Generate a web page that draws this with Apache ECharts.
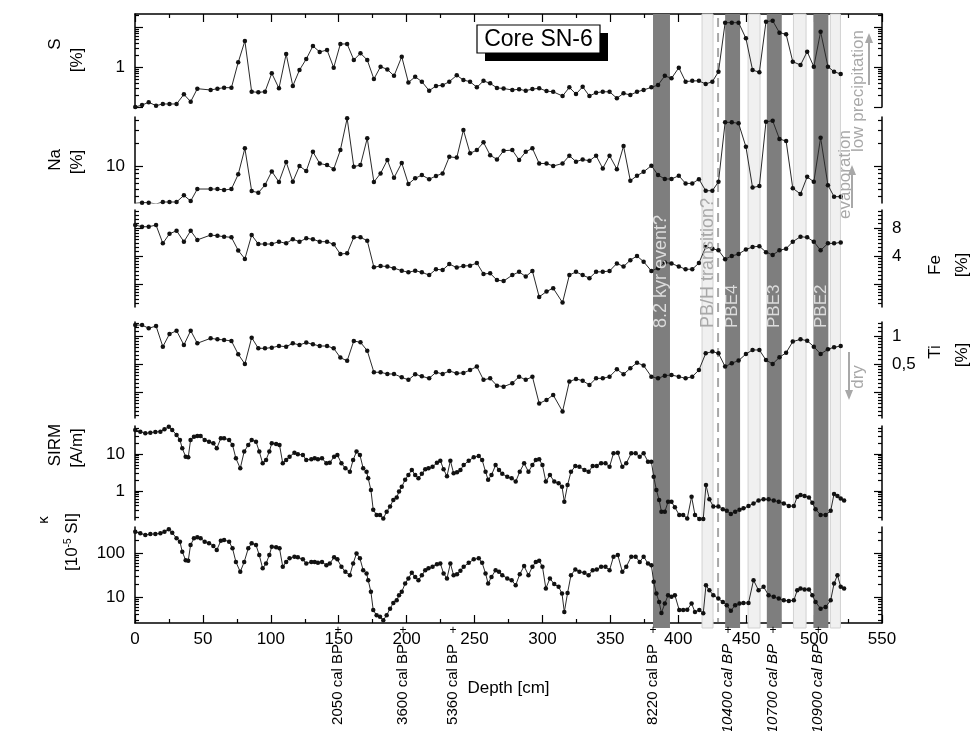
<!DOCTYPE html>
<html>
<head>
<meta charset="utf-8">
<script src="https://cdn.jsdelivr.net/npm/echarts@6/dist/echarts.min.js"></script>
<style>
  html, body { margin: 0; padding: 0; background: #fff; }
  #chart { width: 977px; height: 731px; }
</style>
</head>
<body>
<div id="chart"></div>
<script>
// ---------- XRF element records (core SN-6), depth in cm ----------
const xrfDepth = [
  0.2, 5.2, 10.1, 15.5, 20.5, 25.4, 30.6, 36, 41, 45.9, 55.7, 60.7, 65.6, 71, 76, 80.9, 85.9, 90.8,
  95.7, 100.7, 106, 111.3, 116.2, 121.1, 126.1, 131, 136, 141.4, 146.3, 151.2, 156.2, 161.1, 166,
  171, 175.9, 180.8, 185.8, 190.7, 196.4, 201.3, 206.3, 211.2, 216.6, 221.6, 226.5, 231.4, 236.9,
  241.8, 246.7, 251.7, 256.6, 261.5, 266.5, 271.4,
  277.8, 282.8, 287.7, 292.6, 297.6, 303, 307.9, 314.8, 319.8, 324.7, 329.6, 334.6, 339.5, 344.4,
  349.4, 354.8, 359.7, 364.7, 369.6, 374.5, 380.2, 385.1, 390.1, 395, 400.4, 405.4, 410.3, 415.2,
  420.2, 425.1, 429.6, 434.5, 439.4, 444.4, 449.8, 454.7, 459.7, 464.6, 469.5, 474.5, 479.4, 484.3,
  490, 494.9, 499.8, 504.8, 510.2, 514.7, 519.6
];
// S [%]
const sulfur = [
  0.10, 0.112, 0.131, 0.108, 0.119, 0.119, 0.119, 0.207, 0.136, 0.287, 0.266, 0.287, 0.304, 0.304,
  1.31, 4.47, 0.24, 0.233, 0.24, 0.695, 0.293, 2.11, 0.335, 0.84, 1.58, 3.35, 2.37, 2.66, 0.96,
  3.76, 3.76, 1.5, 2.2, 1.5, 0.5, 1.02, 0.87, 0.6, 1.81, 0.41, 0.57, 0.43, 0.256, 0.335, 0.35,
  0.43, 0.62, 0.47, 0.43, 0.31, 0.45, 0.39, 0.30, 0.29,
  0.266, 0.277, 0.256, 0.28, 0.293, 0.25, 0.24, 0.188, 0.31, 0.21, 0.32, 0.188, 0.228, 0.24, 0.24,
  0.165, 0.22, 0.2, 0.24, 0.266, 0.31, 0.355, 0.6, 0.52, 0.96, 0.43, 0.45, 0.45, 0.376, 0.43,
  0.76, 12.8, 12.8, 12.8, 5.2, 0.84, 0.74, 13.6, 14.3, 7.2, 6.6, 1.36, 1.12, 2.42, 1.02, 7.6,
  1.02, 0.76, 0.67
];
// Na [%]
const sodium = [
  3.23, 3.29, 3.29, 3.16, 3.36, 3.36, 3.36, 4.11, 3.46, 4.98, 4.98, 4.98, 4.83, 4.98, 7.77, 17.1,
  4.69, 4.45, 5.62, 8.5, 6.16, 11.3, 6.22, 10, 8.6, 15.4, 10.8, 10.3, 9.1, 16.2, 42.4, 9.8, 10.3,
  23.2, 6.16, 8.0, 12, 7.0, 11, 5.8, 6.9, 7.6, 6.7, 7.4, 8.0, 13.2, 12.9, 29.8, 14.7, 16.2, 20.5,
  13.9, 12.2, 15.9,
  16.2, 12, 15.4, 17.1, 10.8, 10.8, 10, 10.8, 13.7, 11.4, 12.2, 11.7, 13.7, 9.3, 13.7, 9.1, 18.3,
  6.4, 7.45, 8.4, 10.1, 7.6, 6.75, 6.75, 7.45, 5.9, 5.9, 6.7, 4.73, 4.73, 6.2, 37.6, 37.6, 36.5,
  17.9, 5.2, 5.45, 38.3, 39.4, 22.7, 21.3, 5.1, 4.28, 7.2, 6.2, 23.6, 5.6, 3.95, 3.95
];
// Fe [%]
const iron = [
  8.6, 8.26, 8.26, 8.6, 5.47, 6.93, 7.48, 5.7, 7.48, 5.96, 6.72, 6.6, 6.45, 6.35, 4.59, 3.72, 6.72,
  5.38, 5.38, 5.38, 5.7, 5.47, 6.06, 5.7, 6.19, 6.06, 5.7, 5.7, 5.34, 4.2, 4.27, 6.35, 6.35, 5.85,
  3.03, 3.12, 3.08, 2.96, 2.78, 2.67, 2.78, 2.67, 2.49, 2.88, 2.83, 3.27, 3.0, 3.12, 3.15, 3.36,
  2.56, 2.6, 2.2, 2.15,
  2.49, 2.7, 2.4, 2.76, 1.45, 1.66, 1.8, 1.26, 2.49, 2.7, 2.49, 2.31, 2.7, 2.7, 2.76, 3.33, 3.08,
  3.61, 4.0, 3.47, 2.76, 2.96, 3.4, 3.33, 3.08, 2.88, 2.88, 3.36, 5.0, 4.8, 4.6, 3.7, 4.0, 4.2,
  4.7, 5.0, 5.1, 4.4, 4.1, 4.6, 4.8, 5.7, 6.45, 6.35, 5.7, 4.6, 5.47, 5.47, 5.6
];
// Ti [%]
const titanium = [
  1.31, 1.31, 1.21, 1.28, 0.767, 1.05, 1.14, 0.8, 1.14, 0.835, 0.944, 0.92, 0.906, 0.884, 0.636,
  0.5, 0.96, 0.737, 0.737, 0.749, 0.78, 0.767, 0.835, 0.8, 0.85, 0.814, 0.78, 0.78, 0.737, 0.585,
  0.54, 0.884, 0.855, 0.695, 0.407, 0.407, 0.39, 0.39, 0.359, 0.337, 0.387, 0.368, 0.35, 0.407,
  0.39, 0.42, 0.397, 0.4, 0.43, 0.468, 0.337, 0.35, 0.292, 0.285,
  0.31, 0.365, 0.337, 0.365, 0.188, 0.205, 0.232, 0.154, 0.323, 0.345, 0.33, 0.297, 0.35, 0.35,
  0.365, 0.438, 0.387, 0.45, 0.516, 0.48, 0.365, 0.35, 0.374, 0.38, 0.365, 0.35, 0.365, 0.43,
  0.65, 0.68, 0.65, 0.468, 0.51, 0.543, 0.64, 0.707, 0.707, 0.55, 0.5, 0.59, 0.66, 0.87, 0.92,
  0.89, 0.767, 0.64, 0.72, 0.755, 0.78
];

// ---------- magnetic records, depth in cm ----------
const magDepth = [
  0.2, 3.9, 7.6, 11.3, 15.0, 18.7, 21.7, 24.9, 27.4, 30.6, 33.1, 34.8, 37.3, 39.2, 40.9, 43.4, 45.9,
  48.3, 51.3, 54.5, 57.7, 60.2, 63.2, 65.6, 69.3, 71.8, 74.3, 77.5, 80.4, 83.4, 85.9, 89.1, 91.5,
  94, 96.5, 98.9, 100.7, 103.9, 106.4, 108.8, 111.3, 113.8, 117.4, 119.9, 123.6, 126.1, 129.8,
  132.3, 134.7, 137.7, 140.9, 143.4, 146.6, 149, 152, 154.9, 158.2, 160.6, 163.1, 165.6, 168,
  170.5, 171.7, 173.7, 175.4, 177.9, 180.4, 182.8, 185.3, 187.8, 190.2, 192.7, 194.4, 196.4,
  198.9, 201.3, 203.8, 206.3, 208.7, 211.2, 213.7, 216.1, 219.1, 222.3, 224.8, 227.2, 229.7,
  232.2, 234.6, 237.1, 239.6, 242, 245.7, 249.4, 253.1, 255.6, 258.1, 260, 262.5, 265.5, 268,
  270.4, 274.1,
  277.3, 280.3, 283.3, 286.5, 289.7, 292.6, 295.1, 297.6, 300, 302.5, 305.5, 308.7, 311.9, 314.4,
  316.1, 318.5, 321, 324.2, 327.2, 330.9, 334, 337, 340, 343.2, 346.4, 349.4, 352.3, 355.5, 358.8,
  361.7, 365.4, 368.6, 371.6, 374.5, 377.7, 380.2, 381.9, 383.9, 385.9, 387.6, 390.1, 392.5, 395,
  397.5, 400.7, 403.6, 406.6, 409.8, 412.3, 415.5, 418.4, 420.4, 422.9, 425.8, 429.5, 432.8,
  435.7, 438.7, 441.9, 445.1, 448, 451.7, 455.4, 459.1, 462.8, 466.5, 470.3, 474, 477.7, 481.4,
  485.1, 487.6, 490, 493, 496.2, 498.7, 501.1, 504.8, 508.5, 512.2, 514.7, 517.2, 519.6, 522.1
];
// SIRM [A/m]
const sirm = [
  44.5, 40.1, 36.2, 37.6, 39.3, 40.1, 46.4, 54.8, 44.5, 32.7, 23.9, 14.2, 8.45, 8.1, 23.9, 29.4,
  30.6, 30.6, 23.9, 21.5, 19.4, 14.2, 26.5, 26.5, 23.9, 17.5, 7.6, 4.1, 11.6, 17.5, 23.9, 21.5,
  11.6, 5.6, 6.9, 11.6, 19.4, 18.6, 17.5, 5.6, 6.9, 8.45, 10.8, 9.8, 9.4, 6.9, 7.2, 7.6, 7.2, 7.6,
  5.6, 5.8, 8.45, 9.4, 5.6, 4.1, 3.3, 6.9, 11.6, 9.4, 4.1, 3.3, 2.2, 1.06, 0.31, 0.225, 0.225,
  0.18, 0.275, 0.38, 0.57, 0.67, 0.96, 1.3, 2.0, 2.7, 3.7, 2.7, 2.2, 2.9, 3.85, 4.1, 4.5, 5.8,
  6.6, 3.85, 2.5, 6.6, 3.0, 3.2, 3.7, 5.0, 6.6, 8.1, 8.8, 6.9, 3.3, 2.0, 2.7, 5.0, 3.7, 2.9, 2.43,
  2.2, 1.79, 3.3, 5.6, 3.3, 5.0, 6.9, 7.2, 5.0, 1.79, 2.7, 1.79, 1.61, 1.3, 0.51, 1.45, 3.3, 4.7,
  4.5, 3.7, 3.3, 4.7, 4.7, 5.6, 5.6, 4.5, 10.4, 10.8, 4.5, 5.6, 10.4, 10.4, 8.45, 10.4, 6.2, 6.2,
  2.43, 1.06, 0.57, 0.275, 0.275, 0.51, 0.51, 0.36, 0.225, 0.225, 0.18, 0.7, 0.225, 0.175, 0.175,
  1.45, 0.6, 0.38, 0.38, 0.32, 0.29, 0.24, 0.275, 0.31, 0.34, 0.39, 0.46, 0.55, 0.6, 0.6, 0.55,
  0.51, 0.46, 0.39, 0.39, 0.7, 0.78, 0.73, 0.67, 0.48, 0.32, 0.225, 0.225, 0.29, 0.83, 0.73, 0.63,
  0.55
];
// magnetic susceptibility kappa [10^-5 SI]
const kappa = [
  305, 280, 256, 270, 270, 280, 305, 345, 290, 216, 181, 107, 69, 67, 152, 216, 227, 216, 181, 166,
  144, 117, 190, 198, 181, 128, 63, 37.6, 63, 128, 166, 152, 90, 45, 58, 90, 139, 135, 128, 49, 63,
  76, 83, 80, 72, 58, 63, 63, 60, 63, 53, 58, 80, 72, 49, 37.6, 31.6, 58, 98, 76, 41, 34.6, 24.3,
  13.2, 5.1, 3.9, 3.6, 3.0, 3.9, 5.5, 7.4, 8.5, 11.1, 13.2, 20.4, 26.6, 35.6, 28.8, 24.3, 31.6, 41,
  45, 49, 56, 58, 34.6, 26.6, 58, 31.6, 33.3, 39.5, 49, 60, 72, 76, 60, 34.6, 20.4, 28.8, 41, 37.6,
  31.6, 26.6,
  24.3, 18.7, 33.3, 50.7, 31.6, 49, 63, 67, 49, 15.8, 26.6, 19.8, 17.2, 12.1, 4.6, 12.5, 31.6,
  42.6, 37.6, 35.6, 31.6, 41, 42.6, 49, 49, 41, 83, 90, 37.6, 49, 83, 83, 63, 83, 58, 53, 22.3,
  12.1, 7.8, 4.4, 7.2, 11.1, 10.2, 11.1, 5.1, 5.1, 5.2, 7.2, 4.6, 5.1, 4.3, 18.7, 14.4, 11.1, 9.3,
  7.8, 6.6, 4.9, 6.6, 7.2, 7.4, 7.4, 24.3, 14.4, 17.2, 11.1, 10.2, 9.3, 8.5, 8.2, 8.5, 14.4, 15.8,
  15, 15, 11.1, 7.8, 5.5, 6.0, 8.5, 20.4, 31.6, 17.2, 15.8
];

// ---------- event intervals and age control points ----------
const darkBands = [[381.4, 393.9], [434.5, 445.5], [465.2, 476.2], [499.5, 510.5]];
const darkBandNames = ['8.2 kyr event?', 'PBE4', 'PBE3', 'PBE2'];
const lightBands = [[417.5, 425.6], [451.4, 460.2], [484.8, 494.1], [512, 519.4]];
const transitionDepth = 429.3;
const ageDepth = [149.5, 197.3, 234.2, 381.4, 436.7, 469.8, 503];
const ageLabels = ['2050 cal BP', '3600 cal BP', '5360 cal BP', '8220 cal BP',
                   '10400 cal BP', '10700 cal BP', '10900 cal BP'];

// ---------- layout ----------
const FONT = '"Liberation Sans", Arial, sans-serif';
const GL = 135, GR = 95;          // grid left / right margins
const X_MAX = 550;

function log10Ticks(min, max, mults) {
  const out = [];
  for (let e = -3; e <= 4; e++) {
    for (const m of mults) {
      const v = +(m * Math.pow(10, e)).toPrecision(6);
      if (v >= min * 0.999 && v <= max * 1.001) out.push(v);
    }
  }
  return out;
}
function log2Ticks(min, max, mults) {
  const out = [];
  for (let e = -4; e <= 5; e++) {
    for (const m of mults) {
      const v = +(m * Math.pow(2, e)).toPrecision(6);
      if (v >= min * 0.999 && v <= max * 1.001) out.push(v);
    }
  }
  return out;
}

const panels = [
  { top: 14,  h: 93, min: 0.1,  max: 21.1, base: 10, labels: [1],       side: 'left',  depth: xrfDepth, values: sulfur },
  { top: 117, h: 86, min: 3.26, max: 44.2, base: 10, labels: [10],      side: 'left',  depth: xrfDepth, values: sodium },
  { top: 210, h: 97, min: 1.13, max: 12.5, base: 2,  labels: [4, 8],    side: 'right', depth: xrfDepth, values: iron },
  { top: 322, h: 96, min: 0.131, max: 1.414, base: 2, labels: [0.5, 1], side: 'right', depth: xrfDepth, values: titanium },
  { top: 426, h: 94, min: 0.164, max: 57,  base: 10, labels: [1, 10],   side: 'left',  depth: magDepth, values: sirm },
  { top: 527, h: 96, min: 2.6,  max: 390,  base: 10, labels: [10, 100], side: 'left',  depth: magDepth, values: kappa }
];
panels.forEach(p => {
  if (p.base === 10) {
    p.major = log10Ticks(p.min, p.max, [1]);
    p.minor = log10Ticks(p.min, p.max, [2, 3, 4, 5, 6, 7, 8, 9]);
  } else {
    p.major = log2Ticks(p.min, p.max, [1]);
    p.minor = log2Ticks(p.min, p.max, [1.125, 1.25, 1.375, 1.5, 1.625, 1.75, 1.875]);
  }
});

const fmt = v => String(+(+v).toPrecision(6)).replace('.', ',');

const grids = [], xAxes = [], yAxes = [], series = [];
panels.forEach((p, i) => {
  grids.push({ left: GL, right: GR, top: p.top, height: p.h, outerBoundsMode: 'none' });
  const isTop = i === 0, isBottom = i === panels.length - 1;
  xAxes.push({
    type: 'value', gridIndex: i, min: 0, max: X_MAX, interval: 50,
    position: isTop ? 'top' : 'bottom',
    show: isTop || isBottom,
    axisLine: { show: true, onZero: false, lineStyle: { color: '#000', width: 1.5 } },
    axisTick: { show: true, inside: true, length: 8, lineStyle: { color: '#000', width: 1.2 } },
    minorTick: { show: true, splitNumber: 2, length: 4, lineStyle: { color: '#000', width: 1.2 } },
    axisLabel: { show: isBottom, fontSize: 17, color: '#000', fontFamily: FONT, margin: 8 },
    splitLine: { show: false },
    name: isBottom ? 'Depth [cm]' : '',
    nameLocation: 'middle', nameGap: 57,
    nameTextStyle: { fontSize: 17, color: '#000', fontFamily: FONT }
  });
  ['left', 'right'].forEach(pos => {
    ['major', 'minor'].forEach(kind => {
      yAxes.push({
        type: 'log', logBase: p.base, gridIndex: i, position: pos, min: p.min, max: p.max,
        axisLine: { show: kind === 'major', onZero: false, lineStyle: { color: '#000', width: 1.5 } },
        axisTick: { show: true, inside: true, length: kind === 'major' ? 8 : 4,
                    customValues: p[kind], lineStyle: { color: '#000', width: 1.2 } },
        axisLabel: { show: kind === 'major' && pos === p.side, customValues: p.labels,
                     formatter: fmt, fontSize: 17, color: '#000', fontFamily: FONT, margin: 10 },
        splitLine: { show: false }, minorTick: { show: false }
      });
    });
  });
  series.push({
    type: 'line', xAxisIndex: i, yAxisIndex: i * 4,
    data: p.depth.map((d, k) => [d, p.values[k]]),
    symbol: 'circle', symbolSize: 4.5, showSymbol: true,
    lineStyle: { color: '#2a2a2a', width: 1 },
    itemStyle: { color: '#111' },
    z: 5, animation: false, silent: true
  });
});

// full-height backdrop grid for the event bands
const BG = panels.length;
grids.push({ left: GL, right: GR, top: 14, bottom: 731 - 628, outerBoundsMode: 'none' });
xAxes.push({ type: 'value', gridIndex: BG, min: 0, max: X_MAX, show: false });
yAxes.push({ type: 'value', gridIndex: BG, min: 0, max: 1, show: false });
const BGY = yAxes.length - 1;

const bandData = lightBands.map(b => [b[0], b[1], 0]).concat(darkBands.map(b => [b[0], b[1], 1]));
series.push({
  type: 'custom', xAxisIndex: BG, yAxisIndex: BGY, z: 1, silent: true, animation: false,
  data: bandData,
  renderItem: (params, api) => {
    const a = api.coord([api.value(0), 1]);
    const b = api.coord([api.value(1), 0]);
    const dark = api.value(2) === 1;
    return {
      type: 'rect',
      shape: { x: a[0], y: a[1], width: b[0] - a[0], height: b[1] - a[1] },
      style: dark ? { fill: '#7e7e7e' } : { fill: '#f0f0f0', stroke: '#d2d2d2', lineWidth: 1 }
    };
  }
});
series.push({
  type: 'custom', xAxisIndex: BG, yAxisIndex: BGY, z: 1, silent: true, animation: false,
  data: [[transitionDepth]],
  renderItem: (params, api) => {
    const a = api.coord([api.value(0), 1]);
    const b = api.coord([api.value(0), 0]);
    return {
      type: 'line', shape: { x1: a[0], y1: a[1] + 4, x2: b[0], y2: b[1] - 6 },
      style: { stroke: '#a8a8a8', lineWidth: 2, lineDash: [9, 6] }
    };
  }
});

const chart = echarts.init(document.getElementById('chart'), null, { renderer: 'canvas' });
chart.setOption({
  backgroundColor: '#fff',
  animation: false,
  grid: grids, xAxis: xAxes, yAxis: yAxes, series: series
});

// ---------- annotations ----------
const px = d => chart.convertToPixel({ xAxisIndex: BG }, d);
const UP = Math.PI / 2;
function vtext(x, y, text, size, color, align, extra) {
  return {
    type: 'text', x: x, y: y, rotation: UP, z: 20, silent: true,
    style: Object.assign({ text: text, fill: color, fontSize: size, fontFamily: FONT,
                           align: align, verticalAlign: 'middle' }, extra || {})
  };
}
function arrow(x, y1, y2, color) {
  const dir = y2 < y1 ? -1 : 1;
  return [
    { type: 'line', z: 20, silent: true, shape: { x1: x, y1: y1, x2: x, y2: y2 - dir * 8 },
      style: { stroke: color, lineWidth: 2 } },
    { type: 'polygon', z: 20, silent: true,
      shape: { points: [[x - 4, y2 - dir * 10], [x + 4, y2 - dir * 10], [x, y2]] },
      style: { fill: color } }
  ];
}

const g = [];
// axis titles
g.push(vtext(55, 44, 'S', 17, '#000', 'center'));
g.push(vtext(77, 60, '[%]', 17, '#000', 'center'));
g.push(vtext(55, 160, 'Na', 17, '#000', 'center'));
g.push(vtext(77, 162, '[%]', 17, '#000', 'center'));
g.push(vtext(55, 445, 'SIRM', 17, '#000', 'center'));
g.push(vtext(77, 448, '[A/m]', 17, '#000', 'center'));
g.push(vtext(44, 520, 'κ', 15, '#000', 'center'));
g.push({ type: 'text', x: 72, y: 542, rotation: UP, z: 20, silent: true,
         style: { text: '[10{s|-5} SI]', fill: '#000', fontSize: 17, fontFamily: FONT,
                  align: 'center', verticalAlign: 'middle',
                  rich: { s: { fontSize: 10, fontFamily: FONT, verticalAlign: 'top', padding: [0, 0, 8, 0] } } } });
g.push(vtext(935, 265, 'Fe', 17, '#000', 'center'));
g.push(vtext(962, 265, '[%]', 17, '#000', 'center'));
g.push(vtext(935, 352, 'Ti', 17, '#000', 'center'));
g.push(vtext(962, 355, '[%]', 17, '#000', 'center'));

// event band captions
darkBands.forEach((b, k) => {
  g.push(vtext(px((b[0] + b[1]) / 2), 328, darkBandNames[k], k === 0 ? 18 : 17, '#dcdcdc', 'left'));
});
g.push(vtext(px((lightBands[0][0] + lightBands[0][1]) / 2), 328, 'PB/H transition?', 18, '#a8a8a8', 'left'));

// climate hints
g.push(vtext(858, 152, 'low precipitation', 17, '#a8a8a8', 'left'));
g.push(vtext(845, 219, 'evaporation', 17, '#a8a8a8', 'left'));
g.push(vtext(858, 377, 'dry', 17, '#a8a8a8', 'center'));
arrow(869, 85, 33, '#a8a8a8').forEach(e => g.push(e));
arrow(852, 208, 165, '#a8a8a8').forEach(e => g.push(e));
arrow(849, 352, 400, '#a8a8a8').forEach(e => g.push(e));

// core label box
g.push({ type: 'rect', z: 20, silent: true, shape: { x: 485, y: 33, width: 123, height: 28 }, style: { fill: '#000' } });
g.push({ type: 'rect', z: 21, silent: true, shape: { x: 477, y: 25, width: 123, height: 28 },
         style: { fill: '#fff', stroke: '#000', lineWidth: 1.2 } });
g.push({ type: 'text', z: 22, silent: true, x: 538.5, y: 40,
         style: { text: 'Core SN-6', fill: '#000', fontSize: 23, fontFamily: FONT, align: 'center', verticalAlign: 'middle' } });

// age control points below the depth axis
ageDepth.forEach((d, k) => {
  const x = px(d);
  g.push({ type: 'text', x: x, y: 631, z: 20, silent: true,
           style: { text: '+', fill: '#000', fontSize: 12, fontFamily: FONT, align: 'center', verticalAlign: 'middle' } });
  g.push(vtext(x, 644, ageLabels[k], 15, '#000', 'right', k >= 4 ? { fontStyle: 'italic' } : null));
});

chart.setOption({ graphic: { elements: g } });
</script>
</body>
</html>
